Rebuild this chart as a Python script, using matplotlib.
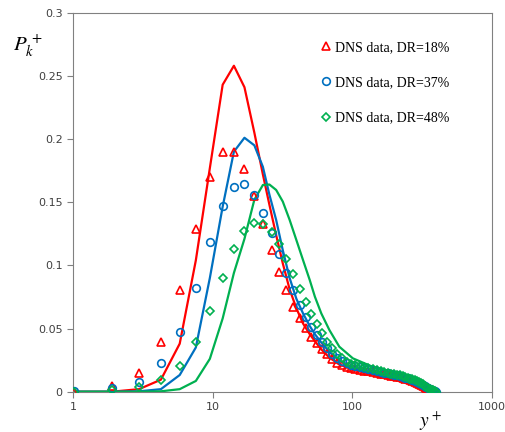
import matplotlib
matplotlib.use("Agg")
from matplotlib import pyplot as plt

# DNS grid (y+) shared by the three data sets
y_dns = [1.01, 1.9, 2.97, 4.26, 5.81, 7.58, 9.55, 11.8, 14.2, 16.9, 19.9, 22.9,
         26.4, 29.8, 33.6, 37.6, 41.9, 46.3, 51, 55.8, 61, 66.3, 71.5, 77.5,
         84, 91, 98, 105, 113, 121, 130, 140, 150, 160, 170, 180, 190, 200,
         210, 220, 230, 240, 250, 260, 270, 280, 290, 300, 310, 320, 330, 340,
         350, 360, 370, 380, 390, 398]

dns_18 = [0.0, 0.0045, 0.015, 0.0396, 0.0803, 0.1285, 0.1697, 0.190, 0.190,
          0.176, 0.155, 0.1327, 0.112, 0.0947, 0.0805, 0.0673, 0.058, 0.0502,
          0.0435, 0.0383, 0.0338, 0.0298, 0.0259, 0.0228, 0.0208, 0.0194,
          0.0184, 0.0178, 0.0172, 0.0166, 0.0160, 0.0154, 0.0148, 0.0142,
          0.0137, 0.0132, 0.0127, 0.0122, 0.0118, 0.0113, 0.0108, 0.0103,
          0.0098, 0.0092, 0.0086, 0.0078, 0.0071, 0.0063, 0.0055, 0.0047,
          0.0040, 0.0032, 0.0025, 0.0018, 0.0011, 0.0005, 0.0001, 0.0]
dns_37 = [0.0005, 0.0027, 0.0079, 0.0225, 0.0475, 0.0823, 0.1185, 0.147,
          0.1623, 0.1642, 0.1555, 0.1417, 0.1254, 0.109, 0.0942, 0.0805,
          0.0686, 0.0594, 0.0515, 0.0449, 0.0396, 0.0343, 0.0298, 0.0265,
          0.0242, 0.0225, 0.0212, 0.0204, 0.0195, 0.0187, 0.0179, 0.0171,
          0.0164, 0.0157, 0.0151, 0.0145, 0.0139, 0.0134, 0.0129, 0.0124,
          0.0118, 0.0112, 0.0106, 0.0099, 0.0092, 0.0084, 0.0076, 0.0068,
          0.0060, 0.0052, 0.0044, 0.0036, 0.0028, 0.0021, 0.0013, 0.0007,
          0.0002, 0.0]
dns_48 = [0.0, 0.0013, 0.0035, 0.0093, 0.0206, 0.039, 0.0639, 0.09, 0.1127,
          0.1275, 0.1338, 0.133, 0.1264, 0.1169, 0.1053, 0.0932, 0.0815,
          0.0712, 0.0612, 0.0535, 0.0462, 0.0396, 0.0343, 0.0298, 0.0264,
          0.0238, 0.0222, 0.0212, 0.0202, 0.0193, 0.0185, 0.0177, 0.0169,
          0.0162, 0.0156, 0.0150, 0.0144, 0.0139, 0.0134, 0.0129, 0.0123,
          0.0117, 0.0111, 0.0104, 0.0097, 0.0089, 0.0081, 0.0073, 0.0065,
          0.0057, 0.0049, 0.0041, 0.0033, 0.0025, 0.0017, 0.0010, 0.0004, 0.0]

# model curves
y_line = [1.01, 1.9, 2.97, 4.26, 5.81, 7.58, 9.55, 11.8, 14.2, 16.9, 19.9,
          22.9, 25.5, 28.5, 31.8, 35.6, 39.8, 44.4, 49.6, 54, 60, 68.6, 80.8,
          101, 150, 200, 250, 300, 350, 398]
model_18 = [0.0, 0.0, 0.002, 0.0095, 0.038, 0.104, 0.177, 0.243, 0.258, 0.241,
            0.205, 0.172, 0.148, 0.124, 0.1016, 0.081, 0.066, 0.054, 0.0455,
            0.040, 0.0335, 0.027, 0.0215, 0.0175, 0.013, 0.0105, 0.0088,
            0.0063, 0.003, 0.0]
model_37 = [0.0, 0.0, 0.0003, 0.002, 0.0132, 0.035, 0.09, 0.1465, 0.19, 0.201,
            0.195, 0.178, 0.156, 0.136, 0.112, 0.09, 0.0735, 0.062, 0.052,
            0.0455, 0.039, 0.0315, 0.0245, 0.019, 0.0145, 0.0115, 0.0093,
            0.0066, 0.0032, 0.0]
model_48 = [0.0, 0.0, 0.0, 0.0003, 0.002, 0.0085, 0.026, 0.058, 0.094, 0.121,
            0.152, 0.1636, 0.164, 0.1597, 0.1505, 0.136, 0.12, 0.1042, 0.0884,
            0.0752, 0.062, 0.0488, 0.0356, 0.0264, 0.0183, 0.0145, 0.0115,
            0.0078, 0.0036, 0.0]

red = "#FF0000"
blue = "#0070C0"
green = "#00B050"

fig = plt.figure(figsize=(5.05, 4.32), dpi=100)
ax = fig.add_axes([0.1446, 0.0933, 0.8294, 0.8773])

ax.plot(y_line, model_18, color=red, lw=1.6, zorder=2)
ax.plot(y_line, model_37, color=blue, lw=1.6, zorder=2)
ax.plot(y_line, model_48, color=green, lw=1.6, zorder=2)

ax.plot(y_dns, dns_18, ls="none", marker="^", ms=5.5, mfc="none", mec=red,
        mew=1.2, label="DNS data, DR=18%", zorder=3)
ax.plot(y_dns, dns_37, ls="none", marker="o", ms=5.5, mfc="none", mec=blue,
        mew=1.2, label="DNS data, DR=37%", zorder=3)
ax.plot(y_dns, dns_48, ls="none", marker="D", ms=4, mfc="none", mec=green,
        mew=1.2, label="DNS data, DR=48%", zorder=3)

ax.set_xscale("log")
ax.set_xlim(1, 1000)
ax.set_ylim(0, 0.3)
ax.set_xticks([1, 10, 100, 1000])
ax.set_xticklabels(["1", "10", "100", "1000"])
ax.set_yticks([0, 0.05, 0.1, 0.15, 0.2, 0.25, 0.3])
ax.set_yticklabels(["0", "0.05", "0.1", "0.15", "0.2", "0.25", "0.3"])
ax.minorticks_off()
ax.tick_params(direction="out", length=4, width=0.8, color="#808080",
               labelsize=8, labelcolor="#404040")
for s in ax.spines.values():
    s.set_color("#808080")
    s.set_linewidth(0.8)

leg = ax.legend(loc="upper left", bbox_to_anchor=(0.565, 0.958), frameon=False,
                handlelength=0.6, handletextpad=0.3, labelspacing=1.6,
                prop={"family": "Liberation Serif", "size": 10})

fig.text(0.025, 0.88, r"$P_k^{\,+}$", fontsize=15, family="serif",
         math_fontfamily="stix")
fig.text(0.83, 0.012, r"$y^+$", fontsize=14, math_fontfamily="stix")

fig.savefig("out.png", dpi=100)
